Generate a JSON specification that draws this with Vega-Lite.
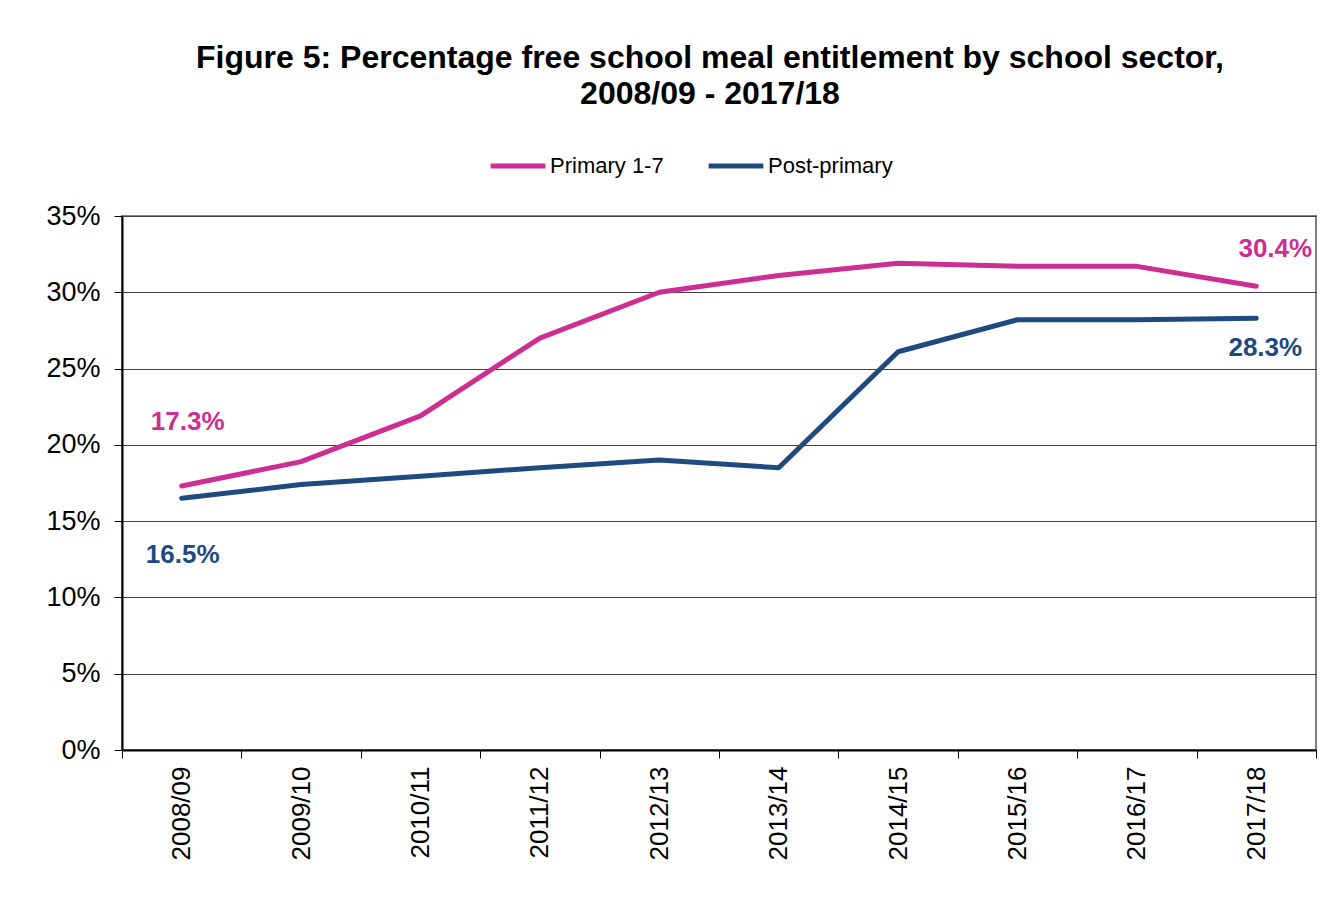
{
  "$schema": "https://vega.github.io/schema/vega-lite/v6.json",
  "autosize": {"type": "none"},
  "width": 1194,
  "height": 534,
  "padding": {"left": 122, "top": 216, "right": 20, "bottom": 153},
  "background": "white",
  "config": {
    "font": "Liberation Sans",
    "view": {"stroke": "#808080", "strokeWidth": 2}
  },
  "title": {
    "text": ["Figure 5: Percentage free school meal entitlement by school sector,", "2008/09 - 2017/18"],
    "fontSize": 32,
    "fontWeight": "bold",
    "color": "#000000",
    "anchor": "middle",
    "lineHeight": 36,
    "offset": 25,
    "dx": -9
  },
  "data": {
    "values": [
      {"year": "2008/09", "series": "Primary 1-7", "value": 0.173},
      {"year": "2009/10", "series": "Primary 1-7", "value": 0.189},
      {"year": "2010/11", "series": "Primary 1-7", "value": 0.219},
      {"year": "2011/12", "series": "Primary 1-7", "value": 0.270},
      {"year": "2012/13", "series": "Primary 1-7", "value": 0.300},
      {"year": "2013/14", "series": "Primary 1-7", "value": 0.311},
      {"year": "2014/15", "series": "Primary 1-7", "value": 0.319},
      {"year": "2015/16", "series": "Primary 1-7", "value": 0.317},
      {"year": "2016/17", "series": "Primary 1-7", "value": 0.317},
      {"year": "2017/18", "series": "Primary 1-7", "value": 0.304},
      {"year": "2008/09", "series": "Post-primary", "value": 0.165},
      {"year": "2009/10", "series": "Post-primary", "value": 0.174},
      {"year": "2010/11", "series": "Post-primary", "value": 0.1795},
      {"year": "2011/12", "series": "Post-primary", "value": 0.185},
      {"year": "2012/13", "series": "Post-primary", "value": 0.190},
      {"year": "2013/14", "series": "Post-primary", "value": 0.185},
      {"year": "2014/15", "series": "Post-primary", "value": 0.261},
      {"year": "2015/16", "series": "Post-primary", "value": 0.282},
      {"year": "2016/17", "series": "Post-primary", "value": 0.282},
      {"year": "2017/18", "series": "Post-primary", "value": 0.283}
    ]
  },
  "encoding": {
    "x": {
      "field": "year",
      "type": "ordinal",
      "bandPosition": 0.5,
      "scale": {"type": "band", "paddingInner": 0, "paddingOuter": 0},
      "axis": {
        "title": null,
        "tickBand": "extent",
        "labelAngle": 270,
        "labelAlign": "right",
        "labelBaseline": "middle",
        "labelFontSize": 26,
        "labelColor": "#000000",
        "labelPadding": 8,
        "tickSize": 8,
        "tickColor": "#000000",
        "domainColor": "#000000",
        "domainWidth": 2,
        "grid": false
      }
    },
    "y": {
      "field": "value",
      "type": "quantitative",
      "scale": {"domain": [0, 0.35], "nice": false},
      "axis": {
        "title": null,
        "format": ".0%",
        "values": [0, 0.05, 0.1, 0.15, 0.2, 0.25, 0.3, 0.35],
        "labelFontSize": 27,
        "labelColor": "#000000",
        "labelPadding": 14,
        "tickSize": 8,
        "tickColor": "#000000",
        "domainColor": "#000000",
        "domainWidth": 2,
        "gridColor": "#404040",
        "gridWidth": 1
      }
    }
  },
  "layer": [
    {
      "mark": {"type": "line", "strokeWidth": 5, "strokeCap": "round", "strokeJoin": "round"},
      "encoding": {
        "color": {
          "field": "series",
          "type": "nominal",
          "sort": ["Primary 1-7", "Post-primary"],
          "scale": {"domain": ["Primary 1-7", "Post-primary"], "range": ["#CC2E93", "#1F4A80"]},
          "legend": {
            "title": null,
            "orient": "none",
            "legendX": 366,
            "legendY": -80,
            "direction": "horizontal",
            "symbolType": "stroke",
            "symbolSize": 3000,
            "symbolStrokeWidth": 5,
            "labelFontSize": 22,
            "labelColor": "#000000",
            "labelOffset": 2,
            "columnPadding": 34
          }
        }
      }
    },
    {
      "transform": [{"filter": "datum.series == 'Primary 1-7' && datum.year == '2008/09'"}],
      "mark": {"type": "text", "fontSize": 26, "fontWeight": "bold", "color": "#CC2E93", "dy": -64, "dx": 6},
      "encoding": {"text": {"field": "value", "format": ".1%"}}
    },
    {
      "transform": [{"filter": "datum.series == 'Post-primary' && datum.year == '2008/09'"}],
      "mark": {"type": "text", "fontSize": 26, "fontWeight": "bold", "color": "#1F4A80", "dy": 57, "dx": 1},
      "encoding": {"text": {"field": "value", "format": ".1%"}}
    },
    {
      "transform": [{"filter": "datum.series == 'Primary 1-7' && datum.year == '2017/18'"}],
      "mark": {"type": "text", "fontSize": 26, "fontWeight": "bold", "color": "#CC2E93", "dy": -37, "dx": 19},
      "encoding": {"text": {"field": "value", "format": ".1%"}}
    },
    {
      "transform": [{"filter": "datum.series == 'Post-primary' && datum.year == '2017/18'"}],
      "mark": {"type": "text", "fontSize": 26, "fontWeight": "bold", "color": "#1F4A80", "dy": 30, "dx": 9},
      "encoding": {"text": {"field": "value", "format": ".1%"}}
    }
  ]
}
